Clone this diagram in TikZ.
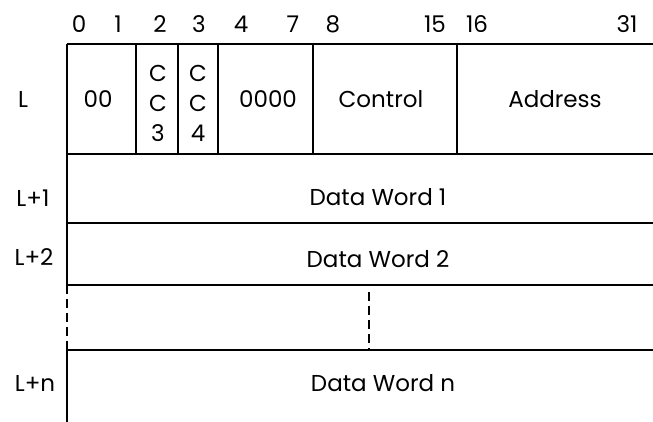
\documentclass[tikz,border=0pt]{standalone}
\usepackage{fontspec}
\setmainfont{Poppins}
\usetikzlibrary{positioning}

\begin{document}
\begin{tikzpicture}[x=0.5pt,y=-0.5pt,
  rule/.style={line width=1pt},
  gap/.style={line width=1pt,dash pattern=on 4.5pt off 2.5pt},
  txt/.style={inner sep=0pt,font=\fontsize{11.5}{13}\selectfont,align=center},
  stack/.style={txt,font=\fontsize{11.5}{15}\selectfont}]
\useasboundingbox (0,0) rectangle (653,422);
% row corners
\coordinate (tl) at (67,44);
\coordinate (tr) at (653,44);
\coordinate (r0l) at (67,154);
\coordinate (r0r) at (653,154);
\coordinate (r1l) at (67,223);
\coordinate (r1r) at (653,223);
\coordinate (r2l) at (67,285);
\coordinate (r2r) at (653,285);
\coordinate (r3l) at (67,350);
\coordinate (r3r) at (653,350);
\coordinate (bl) at (67,422);
\draw[rule] (tl) -- (tr);
\draw[rule] (r0l) -- (r0r);
\draw[rule] (r1l) -- (r1r);
\draw[rule] (r2l) -- (r2r);
\draw[rule] (r3l) -- (r3r);
\draw[rule] (tl) -- (r2l);
\draw[gap] (r2l) -- (r3l);
\draw[rule] (r3l) -- (bl);
% field dividers
\foreach \x in {136,178,218,313,457}
  \draw[rule] (\x,44) -- (\x,154);
\coordinate (m2) at (369,292);
\coordinate (m3) at (369,350);
\draw[gap] (m2) -- (m3);
% bit numbers
\node at (79,24)[txt](b0){0};
\node at (118,24)[txt](b1){1};
\node at (160,24)[txt](b2){2};
\node at (199,24)[txt](b3){3};
\node at (241,24)[txt](b4){4};
\node at (293,24)[txt](b7){7};
\node at (333,24)[txt](b8){8};
\node at (435,24)[txt](b15){15};
\node at (477,24)[txt](b16){16};
\node at (627,24)[txt](b31){31};
% row labels
\node at (23,99)[txt](lL){L};
\node at (33,198)[txt](lL1){L+1};
\node at (34,257)[txt](lL2){L+2};
\node at (35,383)[txt](lLn){L+n};
% fields
\node at (98,99)[txt](f00){00};
\node at (158,103)[stack](fcc3){C\\C\\3};
\node at (198,103)[stack](fcc4){C\\C\\4};
\node at (268,99)[txt](f0000){0000};
\node at (381,99)[txt](fctl){Control};
\node at (555,99)[txt](fadr){Address};
\node at (378,197)[txt](dw1){Data Word 1};
\node at (378,259)[txt](dw2){Data Word 2};
\node at (383,383)[txt](dwn){Data Word n};
\end{tikzpicture}
\end{document}
